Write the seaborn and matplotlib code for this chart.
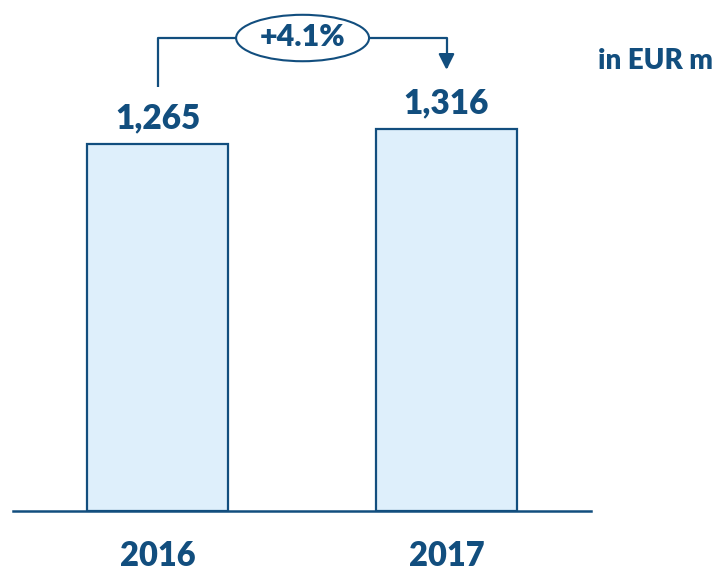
import pandas as pd
import seaborn as sns
import matplotlib.pyplot as plt
from matplotlib.patches import Ellipse

# chart data
years = ['2016', '2017']
revenue = [1265, 1316]
change_label = '+4.1%'
unit_label = 'in EUR m'

navy = '#124E7E'
fill = '#DEEFFB'
weight = 'heavy'

df = pd.DataFrame({'year': years, 'revenue': revenue})

sns.set_style('white')
plt.rcParams['font.family'] = ['Lato', 'DejaVu Sans']

fig = plt.figure(figsize=(7.23, 5.72), dpi=100)
ax = fig.add_axes([13 / 723, 61 / 572, 578 / 723, 511 / 572])

sns.barplot(data=df, x='year', y='revenue', color=fill, saturation=1,
            width=0.49, edgecolor=navy, linewidth=1.6, ax=ax)

ax.set_xlim(-0.5, 1.5)
ax.set_ylim(0, 1761)
ax.set_xlabel('')
ax.set_ylabel('')
ax.set_yticks([])
sns.despine(ax=ax, left=True)
ax.spines['bottom'].set_color(navy)
ax.spines['bottom'].set_linewidth(1.8)
ax.tick_params(axis='x', length=0, pad=21, labelsize=23.5, labelcolor=navy)
for lbl in ax.get_xticklabels():
    lbl.set_fontweight(weight)

# value labels on bars
ax.bar_label(ax.containers[0], labels=[f'{v:,}' for v in revenue], padding=7,
             fontsize=24, fontweight=weight, color=navy)

# growth bracket between the two bars
y_top = 1630
ax.plot([0, 0, 0.27], [1461, y_top, y_top], color=navy, lw=1.6, solid_capstyle='butt')
ax.annotate('', xy=(1, 1520), xytext=(0.73, y_top),
            arrowprops=dict(arrowstyle='-|>', connectionstyle='angle,angleA=0,angleB=90,rad=0',
                            color=navy, lw=1.6, mutation_scale=24, shrinkA=0, shrinkB=0))
ax.add_patch(Ellipse((0.502, y_top), 0.46, 160, facecolor='white', edgecolor=navy,
                     lw=1.5, clip_on=False, zorder=3))
ax.text(0.502, y_top + 5, change_label, ha='center', va='center', fontsize=22,
        fontweight=weight, color=navy, zorder=4)

fig.text(598 / 723, (572 - 69) / 572, unit_label, ha='left', va='baseline',
         fontsize=20, fontweight=weight, color=navy)

fig.savefig('out.png', dpi=100)
